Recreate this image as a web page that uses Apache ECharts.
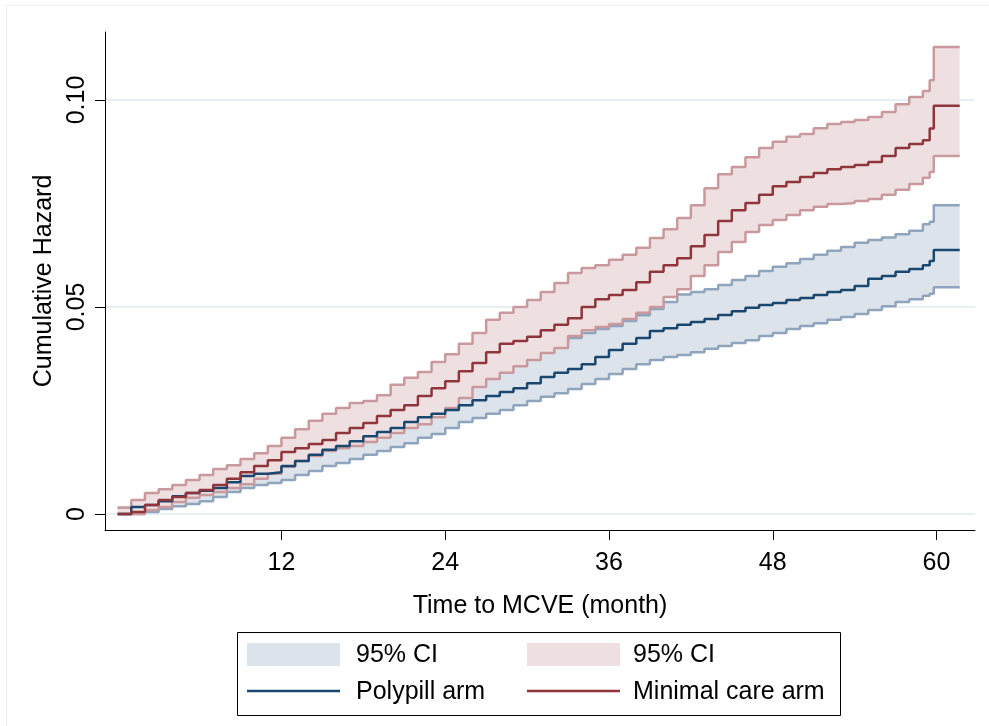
<!DOCTYPE html>
<html>
<head>
<meta charset="utf-8">
<script src="https://cdn.jsdelivr.net/npm/echarts@6/dist/echarts.min.js"></script>
<style>html,body{margin:0;padding:0;background:#fff;}#c{width:989px;height:726px;}</style>
</head>
<body>
<div id="c"></div>
<script>
// ---- data ----
const months = [0,1,2,3,4,5,6,7,8,9,10,11,12,13,14,15,16,17,18,19,20,21,22,23,24,25,26,27,28,29,30,31,32,33,34,35,36,37,38,39,40,41,42,43,44,45,46,47,48,49,50,51,52,53,54,55,56,57,58,59,59.5,59.8,61.7];

const polypill = [0,0.0017,0.0022,0.0031,0.0043,0.0051,0.0056,0.0063,0.0077,0.0092,
  0.0097,0.0101,0.0116,0.0128,0.0143,0.0155,0.0164,0.0176,0.0188,0.0198,
  0.0208,0.0222,0.0234,0.0242,0.0251,0.0263,0.0275,0.0285,0.0295,0.0304,
  0.0316,0.0331,0.0341,0.0350,0.0362,0.0379,0.0396,0.0411,0.0425,0.0442,
  0.0449,0.0457,0.0464,0.0471,0.0481,0.0490,0.0498,0.0505,0.0510,0.0517,
  0.0522,0.0529,0.0536,0.0541,0.0551,0.0568,0.0575,0.0585,0.0592,0.0601,
  0.0611,0.0638,0.0638];
const polypillLo = [0,0,0.0005,0.0012,0.0019,0.0024,0.0031,0.0041,0.0053,0.0063,
  0.0070,0.0075,0.0082,0.0094,0.0104,0.0116,0.0123,0.0133,0.0143,0.0152,
  0.0162,0.0171,0.0184,0.0193,0.0208,0.0222,0.0232,0.0242,0.0251,0.0263,
  0.0273,0.0283,0.0292,0.0302,0.0314,0.0326,0.0338,0.0350,0.0362,0.0372,
  0.0379,0.0384,0.0391,0.0399,0.0406,0.0413,0.0420,0.0430,0.0437,0.0447,
  0.0454,0.0461,0.0469,0.0476,0.0483,0.0493,0.0502,0.0512,0.0519,0.0527,
  0.0532,0.0548,0.0548];
const polypillHi = [0.0015,0.0029,0.0041,0.0051,0.0063,0.0072,0.0080,0.0089,0.0104,0.0118,
  0.0126,0.0133,0.0150,0.0164,0.0181,0.0196,0.0208,0.0222,0.0237,0.0249,
  0.0261,0.0278,0.0290,0.0300,0.0312,0.0326,0.0338,0.0350,0.0362,0.0374,
  0.0386,0.0401,0.0413,0.0425,0.0437,0.0447,0.0454,0.0466,0.0480,0.0495,
  0.0512,0.0530,0.0536,0.0543,0.0553,0.0565,0.0575,0.0587,0.0597,0.0606,
  0.0616,0.0626,0.0636,0.0645,0.0655,0.0662,0.0668,0.0676,0.0684,0.0700,
  0.0706,0.0746,0.0746];

const minimal = [0,0.0005,0.0022,0.0034,0.0041,0.0051,0.0058,0.0070,0.0085,0.0101,
  0.0116,0.0130,0.0150,0.0159,0.0169,0.0179,0.0196,0.0208,0.0220,0.0237,
  0.0251,0.0263,0.0285,0.0304,0.0321,0.0345,0.0365,0.0391,0.0411,0.0418,
  0.0428,0.0444,0.0457,0.0473,0.0500,0.0519,0.0529,0.0541,0.0560,0.0585,
  0.0601,0.0618,0.0647,0.0674,0.0708,0.0734,0.0751,0.0771,0.0792,0.0802,
  0.0814,0.0824,0.0833,0.0838,0.0843,0.0850,0.0865,0.0884,0.0894,0.0903,
  0.0931,0.0986,0.0986];
const minimalLo = [0,0,0.0010,0.0017,0.0029,0.0039,0.0046,0.0053,0.0063,0.0072,
  0.0085,0.0097,0.0114,0.0128,0.0140,0.0152,0.0159,0.0164,0.0174,0.0184,
  0.0196,0.0208,0.0217,0.0234,0.0256,0.0280,0.0307,0.0326,0.0341,0.0357,
  0.0372,0.0389,0.0401,0.0430,0.0444,0.0452,0.0459,0.0471,0.0486,0.0500,
  0.0524,0.0543,0.0575,0.0601,0.0633,0.0657,0.0681,0.0698,0.0710,0.0722,
  0.0734,0.0742,0.0749,0.0751,0.0756,0.0761,0.0771,0.0783,0.0797,0.0812,
  0.0826,0.0865,0.0865];
const minimalHi = [0.0015,0.0034,0.0051,0.0060,0.0070,0.0082,0.0094,0.0109,0.0118,0.0133,
  0.0147,0.0164,0.0184,0.0205,0.0225,0.0242,0.0256,0.0268,0.0273,0.0287,
  0.0312,0.0329,0.0343,0.0367,0.0386,0.0411,0.0437,0.0469,0.0486,0.0500,
  0.0517,0.0536,0.0558,0.0582,0.0594,0.0601,0.0614,0.0626,0.0643,0.0667,
  0.0688,0.0715,0.0746,0.0787,0.0821,0.0838,0.0862,0.0884,0.0899,0.0911,
  0.0918,0.0932,0.0942,0.0947,0.0952,0.0959,0.0971,0.0990,0.1007,0.1022,
  0.1048,0.1128,0.1128];

const xTicks = [12, 24, 36, 48, 60];
const xTickLabels = ['12', '24', '36', '48', '60'];
const yTicks = [0, 0.05, 0.10];
const yTickLabels = ['0', '0.05', '0.10'];

const legendLabels = ['95% CI', '95% CI', 'Polypill arm', 'Minimal care arm'];

// ---- styles ----
const FONT = 'Liberation Sans, Arial, Helvetica, sans-serif';
const BLUE = '#1a476f', RED = '#90353b';
const BLUE_CI = '#8fa4bd', RED_CI = '#c9999d';
const BLUE_FILL = '#dde3ea', RED_FILL = '#eee0e1';
const GRID = '#e6eff1';

const pts = (arr) => months.map((t, i) => [t, arr[i]]);

function lineSeries(data, color, z) {
  return {
    type: 'line', data: data, step: 'end', symbol: 'none', silent: true,
    lineStyle: { color: color, width: 2.5 }, z: z
  };
}

// step-shaped confidence band drawn through the axes' coordinate conversion
function bandSeries(lo, hi, fill, z) {
  return {
    type: 'custom', silent: true, z: z, clip: true,
    data: [[months[0], lo[0]]],
    renderItem: function (params, api) {
      const n = months.length, p = [];
      for (let i = 0; i < n; i++) {
        p.push(api.coord([months[i], hi[i]]));
        if (i < n - 1) p.push(api.coord([months[i + 1], hi[i]]));
      }
      for (let i = n - 1; i >= 0; i--) {
        if (i < n - 1) p.push(api.coord([months[i + 1], lo[i]]));
        p.push(api.coord([months[i], lo[i]]));
      }
      return { type: 'polygon', shape: { points: p }, style: { fill: fill, stroke: null } };
    }
  };
}

const chart = echarts.init(document.getElementById('c'), null, { renderer: 'canvas' });
chart.setOption({
  animation: false,
  backgroundColor: '#fff',
  grid: { left: 105, right: 14, top: 32, bottom: 196, containLabel: false, outerBoundsMode: 'none' },
  xAxis: {
    type: 'value', min: -0.93, max: 62.82,
    name: 'Time to MCVE (month)', nameLocation: 'middle', nameGap: 64,
    nameTextStyle: { fontFamily: FONT, fontSize: 25, color: '#000' },
    axisLine: { show: true, onZero: false, lineStyle: { color: '#000', width: 1 } },
    axisTick: { show: true, length: 10, customValues: xTicks, lineStyle: { color: '#000', width: 1 } },
    axisLabel: { customValues: xTicks, margin: 21, fontFamily: FONT, fontSize: 25, color: '#000',
      formatter: (v) => { const i = xTicks.indexOf(v); return i >= 0 ? xTickLabels[i] : ''; } },
    splitLine: { show: false }
  },
  yAxis: {
    type: 'value', min: -0.00386, max: 0.11643,
    name: 'Cumulative Hazard', nameLocation: 'middle', nameGap: 28, nameRotate: 90,
    nameTextStyle: { fontFamily: FONT, fontSize: 25, color: '#000' },
    axisLine: { show: true, onZero: false, lineStyle: { color: '#000', width: 1 } },
    axisTick: { show: true, length: 10, customValues: yTicks, lineStyle: { color: '#000', width: 1 } },
    axisLabel: { customValues: yTicks, rotate: 90, margin: 15, fontFamily: FONT, fontSize: 25, color: '#000',
      formatter: (v) => { let k = -1; yTicks.forEach((t, i) => { if (Math.abs(t - v) < 1e-9) k = i; }); return k >= 0 ? yTickLabels[k] : ''; } },
    splitLine: { show: true, lineStyle: { color: GRID, width: 2 } }
  },
  series: [
    bandSeries(polypillLo, polypillHi, BLUE_FILL, 1),
    lineSeries(pts(polypillHi), BLUE_CI, 2),
    lineSeries(pts(polypillLo), BLUE_CI, 2),
    bandSeries(minimalLo, minimalHi, RED_FILL, 3),
    lineSeries(pts(minimalHi), RED_CI, 4),
    lineSeries(pts(minimalLo), RED_CI, 4),
    lineSeries(pts(polypill), BLUE, 5),
    lineSeries(pts(minimal), RED, 5)
  ],
  graphic: [
    { type: 'rect', shape: { x: 6.5, y: 5.5, width: 1000, height: 1000 }, style: { fill: 'none', stroke: '#eaf1f3', lineWidth: 1 }, silent: true },
    { type: 'rect', shape: { x: 237.5, y: 632.5, width: 603, height: 83 }, style: { fill: '#fff', stroke: '#000', lineWidth: 1 }, silent: true },
    { type: 'rect', shape: { x: 247, y: 643, width: 93, height: 23 }, style: { fill: BLUE_FILL }, silent: true },
    { type: 'rect', shape: { x: 527, y: 643, width: 93, height: 23 }, style: { fill: RED_FILL }, silent: true },
    { type: 'line', shape: { x1: 247, y1: 691, x2: 340, y2: 691 }, style: { stroke: BLUE, lineWidth: 2.5 }, silent: true },
    { type: 'line', shape: { x1: 527, y1: 691, x2: 620, y2: 691 }, style: { stroke: RED, lineWidth: 2.5 }, silent: true },
    { type: 'text', x: 356, y: 655, style: { text: legendLabels[0], font: '25px ' + FONT, fill: '#000', textVerticalAlign: 'middle' }, silent: true },
    { type: 'text', x: 633, y: 655, style: { text: legendLabels[1], font: '25px ' + FONT, fill: '#000', textVerticalAlign: 'middle' }, silent: true },
    { type: 'text', x: 356, y: 692, style: { text: legendLabels[2], font: '25px ' + FONT, fill: '#000', textVerticalAlign: 'middle' }, silent: true },
    { type: 'text', x: 633, y: 692, style: { text: legendLabels[3], font: '25px ' + FONT, fill: '#000', textVerticalAlign: 'middle' }, silent: true }
  ]
});
</script>
</body>
</html>
